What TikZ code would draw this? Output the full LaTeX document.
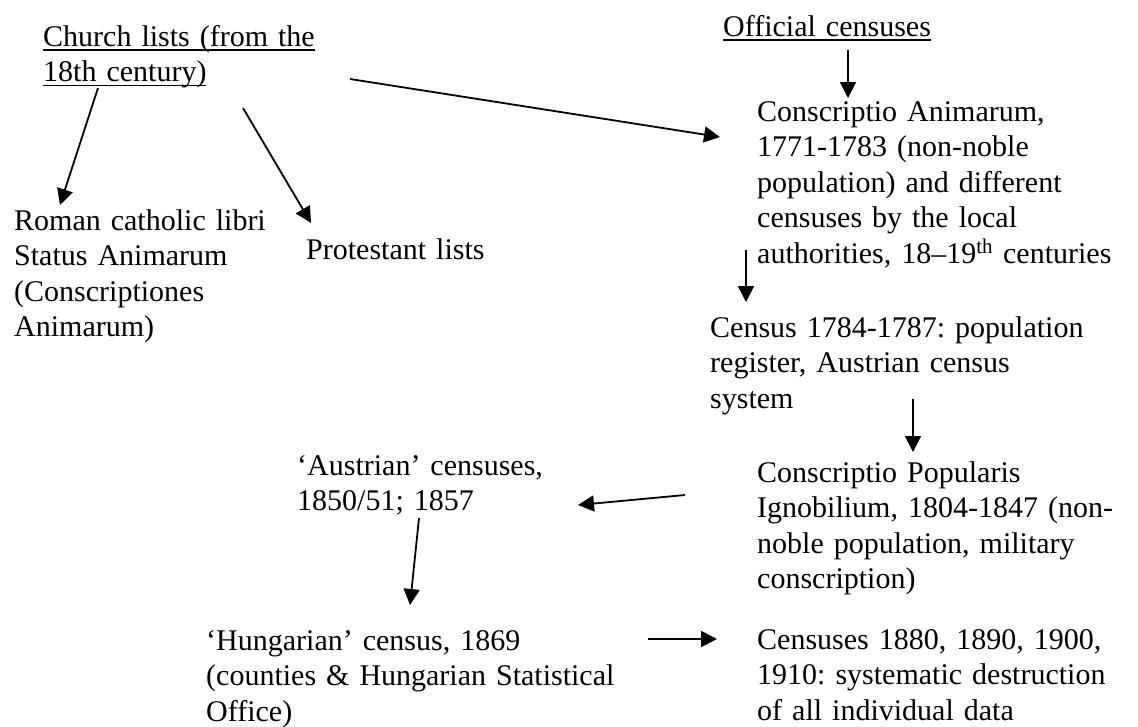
\documentclass[tikz,border=0pt]{standalone}
\usepackage{fontspec}
\setmainfont{Liberation Serif}
\usepackage{tikz}
\usetikzlibrary{arrows.meta, positioning}

% underline at a fixed depth below the baseline
\newcommand{\ulline}[1]{\vtop{\hbox{\raisebox{0pt}[\height][0pt]{#1}}\kern3pt\hrule height 1.5pt}}

\tikzset{
  src/.style = {anchor=base west, inner sep=0pt, align=left, text width=#1,
                font=\fontsize{30}{35.5}\selectfont\frenchspacing},
  flow/.style = {-{Triangle[length=16pt,width=16pt]}, line width=1.8pt},
}

\begin{document}
\begin{tikzpicture}[x=1pt, y=-1pt]
  \useasboundingbox (0,0) rectangle (1138,726);

  % church side
  \node[src=290pt] (church) at (43,46) {\ulline{Church lists (from the}\\\ulline{18th century)}};
  \node[src=270pt] (roman) at (14,230) {Roman catholic libri\\Status Animarum\\(Conscriptiones\\Animarum)};
  \node[src=200pt] (protestant) at (306,259) {Protestant lists};

  % official side
  \node[src=230pt] (official) at (723,36) {\ulline{Official censuses}};
  \node[src=380pt] (animarum) at (757,121) {Conscriptio Animarum,\\1771-1783 (non-noble\\population) and different\\censuses by the local\\authorities, 18–19\textsuperscript{th} centuries};
  \node[src=400pt] (register) at (710,337) {Census 1784-1787: population\\register, Austrian census\\system};
  \node[src=380pt] (ignobilium) at (757,482) {Conscriptio Popularis\\Ignobilium, 1804-1847 (non-\\noble population, military\\conscription)};
  \node[src=270pt] (austrian) at (297,475) {‘Austrian’ censuses,\\1850/51; 1857};
  \node[src=430pt] (hungarian) at (206,650) {‘Hungarian’ census, 1869\\(counties \& Hungarian Statistical\\Office)};
  \node[src=380pt] (later) at (757,649) {Censuses 1880, 1890, 1900,\\1910: systematic destruction\\of all individual data};

  % arrows
  \draw[flow] ([shift={(55,42)}]church.base west) -- ([shift={(46,-25)}]roman.base west);
  \draw[flow] ([shift={(200,62)}]church.base west) -- ([shift={(5,-36)}]protestant.base west);
  \draw[flow] ([shift={(307,33)}]church.base west) -- ([shift={(-37,16)}]animarum.base west);
  \draw[flow] ([shift={(125,14)}]official.base west) -- ([shift={(91,-23)}]animarum.base west);
  \draw[flow] ([shift={(-11,129)}]animarum.base west) -- ([shift={(36,-35)}]register.base west);
  \draw[flow] ([shift={(203,62)}]register.base west) -- ([shift={(156,-30)}]ignobilium.base west);
  \draw[flow] ([shift={(-72,13)}]ignobilium.base west) -- ([shift={(281,30)}]austrian.base west);
  \draw[flow] ([shift={(122,43)}]austrian.base west) -- ([shift={(204,-45)}]hungarian.base west);
  \draw[flow] ([shift={(442,-11)}]hungarian.base west) -- ([shift={(-40,-10)}]later.base west);
\end{tikzpicture}
\end{document}
